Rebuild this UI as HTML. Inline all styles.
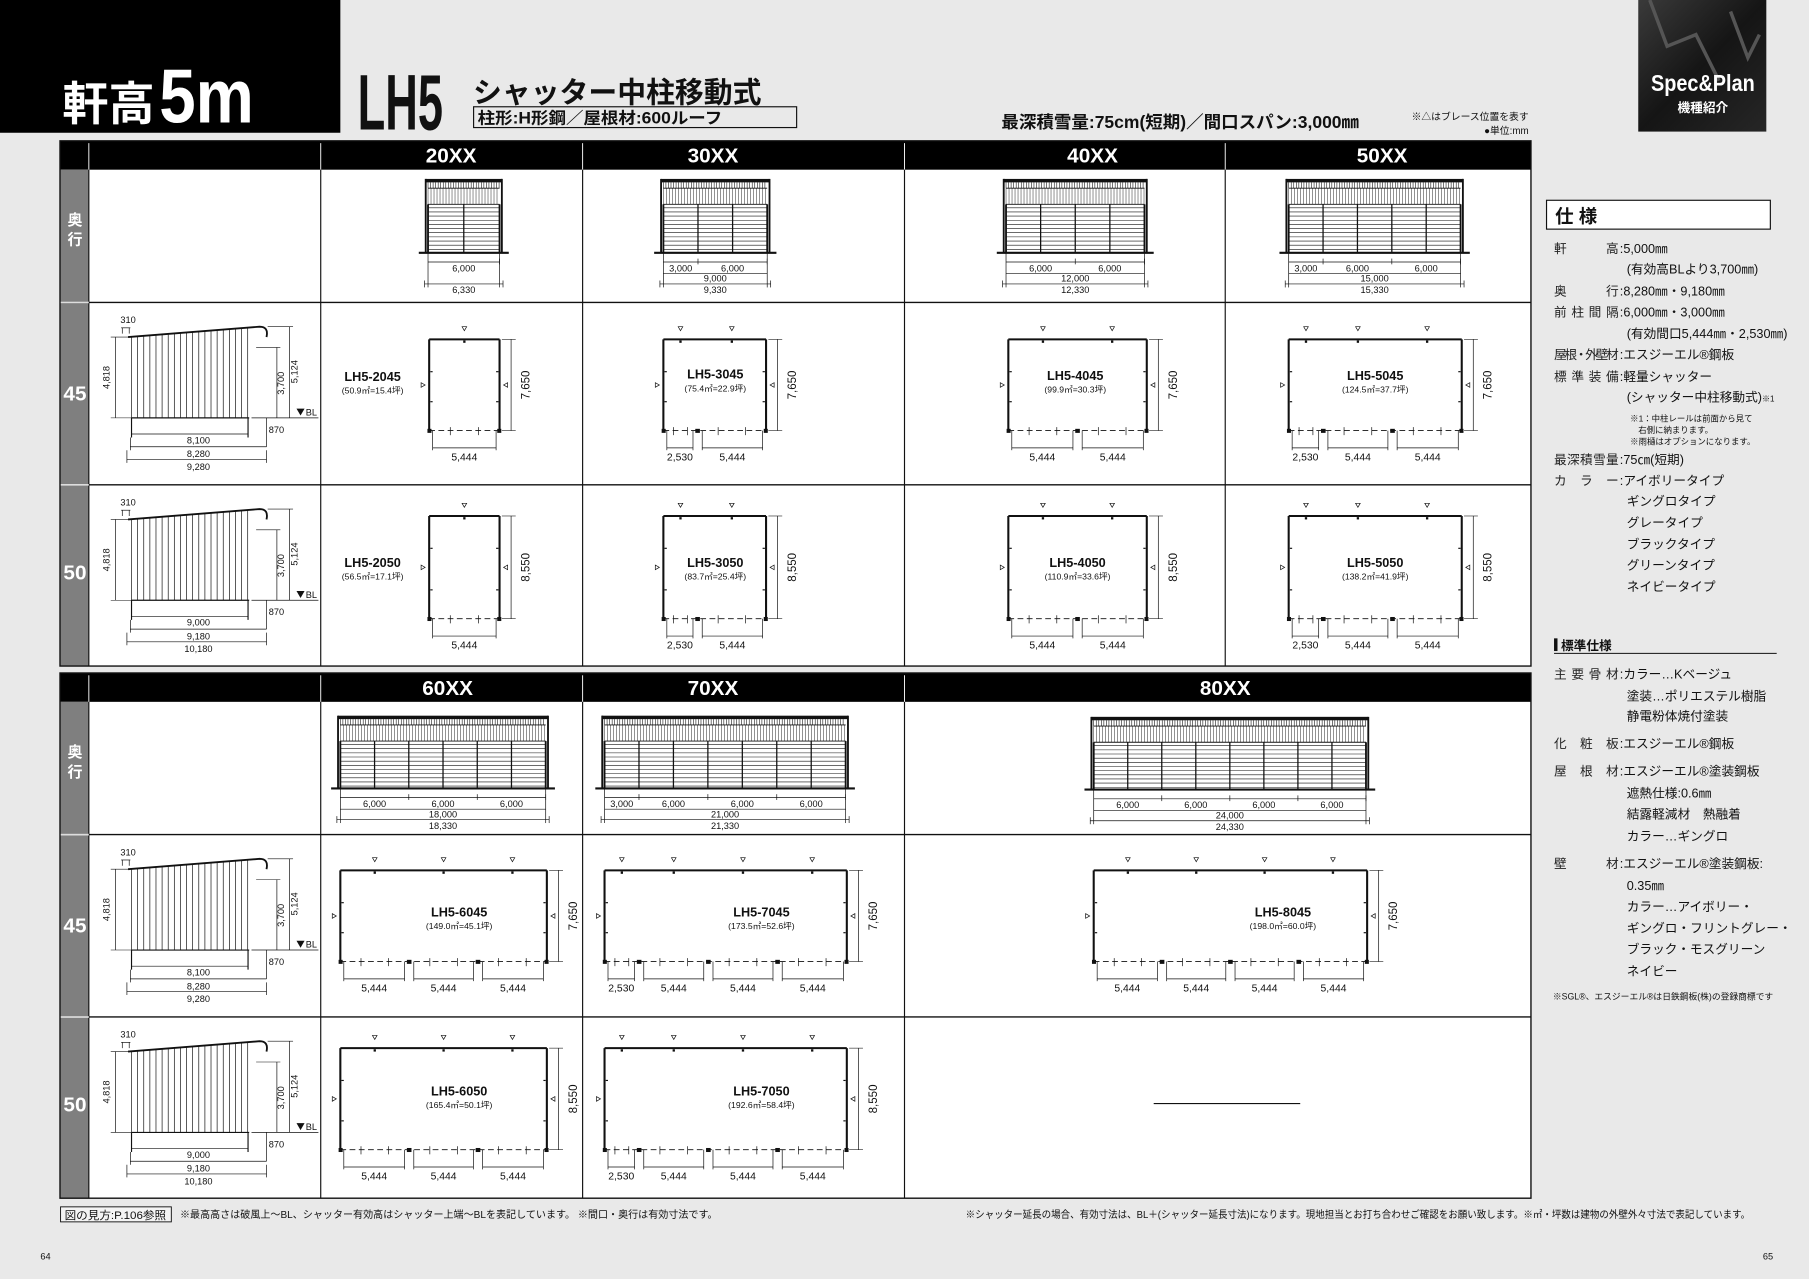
<!DOCTYPE html>
<html><head><meta charset="utf-8">
<style>
html,body{margin:0;padding:0;background:#e9e9e9;}
svg{display:block;}
text{font-family:"Liberation Sans","Noto Sans CJK JP",sans-serif;}
.n{font-family:"Liberation Sans Narrow","Liberation Sans","Noto Sans CJK JP",sans-serif;}
</style></head>
<body>
<svg id="s" width="1809" height="1279" viewBox="0 0 1568 1108" preserveAspectRatio="none" xmlns="http://www.w3.org/2000/svg">
<rect x="0" y="0" width="1568" height="1108" fill="#e9e9e9"/>
<!-- header -->
<rect x="0" y="0" width="295" height="115" fill="#000"/>
<text x="54" y="104" font-size="40" font-weight="bold" fill="#fff">軒高</text>
<text x="138" y="106" class="n" font-size="66" font-weight="bold" fill="#fff" textLength="82" lengthAdjust="spacingAndGlyphs">5m</text>
<text x="310" y="112" class="n" font-size="68" font-weight="bold" fill="#111" textLength="74" lengthAdjust="spacingAndGlyphs">LH5</text>
<text x="410" y="89" font-size="25" font-weight="bold" fill="#111" textLength="250" lengthAdjust="spacingAndGlyphs">シャッター中柱移動式</text>
<rect x="410.5" y="92.5" width="280" height="18" fill="none" stroke="#111" stroke-width="1"/>
<text x="414" y="107" font-size="14" font-weight="bold" fill="#111" textLength="212" lengthAdjust="spacingAndGlyphs">柱形:H形鋼／屋根材:600ルーフ</text>
<text x="868" y="111" font-size="15" font-weight="bold" fill="#111" textLength="310" lengthAdjust="spacingAndGlyphs">最深積雪量:75cm(短期)／間口スパン:3,000㎜</text>
<text x="1325" y="104" font-size="8.5" fill="#111" text-anchor="end">※△はブレース位置を表す</text>
<text x="1325" y="116" font-size="8.5" fill="#111" text-anchor="end">●単位:mm</text>
<defs><linearGradient id="gp" x1="0" y1="0" x2="1" y2="1"><stop offset="0" stop-color="#3a3a3a"/><stop offset="0.5" stop-color="#151515"/><stop offset="1" stop-color="#262626"/></linearGradient></defs>
<rect x="1420" y="0" width="111" height="114" fill="url(#gp)"/>
<path d="M1430 0 L1445 40 L1470 30 L1490 70 M1500 10 L1515 50 L1525 30" stroke="#555" stroke-width="3" fill="none"/>
<text x="1476" y="79" class="n" font-size="20" font-weight="bold" fill="#fff" text-anchor="middle" textLength="90" lengthAdjust="spacingAndGlyphs">Spec&amp;Plan</text>
<text x="1476" y="97" font-size="11" font-weight="bold" fill="#fff" text-anchor="middle">機種紹介</text>
<g id="g"></g>
</svg>
<script>
var o=[];
function L(x1,y1,x2,y2,w,c,d){o.push('<line x1="'+x1+'" y1="'+y1+'" x2="'+x2+'" y2="'+y2+'" stroke="'+(c||'#111')+'" stroke-width="'+(w||0.6)+'"'+(d?' stroke-dasharray="'+d+'"':'')+'/>');}
function R(x,y,w,h,f,s,sw){o.push('<rect x="'+x+'" y="'+y+'" width="'+w+'" height="'+h+'" fill="'+(f||'none')+'"'+(s?' stroke="'+s+'" stroke-width="'+(sw||1)+'"':'')+'/>');}
function T(x,y,t,sz,a,extra,cls){o.push('<text x="'+x+'" y="'+y+'" font-size="'+sz+'"'+(a?' text-anchor="'+a+'"':'')+(cls?' class="'+cls+'"':'')+' fill="#111" '+(extra||'')+'>'+t+'</text>');}
function TV(x,y,t,sz){o.push('<text x="'+x+'" y="'+y+'" font-size="'+sz+'" class="n" fill="#111" text-anchor="middle" transform="rotate(-90 '+x+' '+y+')">'+t+'</text>');}
function fmt(n){return n.toLocaleString('en-US');}

// tables
function table(y0,yh,rows,cols,heads){
  var x0=52,x1=1327;
  R(x0,y0,x1-x0,rows[rows.length-1]-y0,'#fff');
  R(x0,y0,x1-x0,yh-y0,'#000');
  R(x0,yh,25,rows[rows.length-1]-yh,'#7f7f7f');
  for(var i=0;i<cols.length;i++){L(cols[i],y0+2,cols[i],yh,0.8,'#fff');L(cols[i],yh,cols[i],rows[rows.length-1],1,'#111');}
  for(var j=1;j<rows.length-1;j++){L(x0,rows[j],x1,rows[j],1.2,'#111');L(x0,rows[j],77,rows[j],1.5,'#ddd');}
  R(x0,y0,x1-x0,rows[rows.length-1]-y0,'none','#111',1.2);
  heads.forEach(function(h){o.push('<text x="'+h[0]+'" y="'+(y0+19)+'" class="n" font-size="18" font-weight="bold" fill="#fff" text-anchor="middle">'+h[1]+'</text>');});
}
table(122,147,[122,262,420,577],[77,278,505,784,1062],[[391,'20XX'],[618,'30XX'],[947,'40XX'],[1198,'50XX']]);
table(583,608,[583,723,881,1038],[77,278,505,784],[[388,'60XX'],[618,'70XX'],[1062,'80XX']]);
function side(t,sz){o.push('<text x="65" y="'+t+'" font-size="'+sz+'" font-weight="bold" fill="#fff" text-anchor="middle" class="n">'+arguments[2]+'</text>');}
[[195,212],[656,673]].forEach(function(p){o.push('<text x="65" y="'+p[0]+'" font-size="13" font-weight="bold" fill="#fff" text-anchor="middle">奥</text><text x="65" y="'+p[1]+'" font-size="13" font-weight="bold" fill="#fff" text-anchor="middle">行</text>');});
[[347,'45'],[502,'50'],[808,'45'],[963,'50']].forEach(function(p){o.push('<text x="65" y="'+p[0]+'" font-size="18" font-weight="bold" fill="#fff" text-anchor="middle" class="n">'+p[1]+'</text>');});

// front elevations
function fe(x1,x2,top,base,segs){
  var n=Math.round((x2-x1)/((x2-x1)/ (segs.reduce(function(a,b){return a+b},0)/3000)));
  var bays=segs.reduce(function(a,b){return a+b},0)/3000;
  R(x1-2,top,x2-x1+4,3,'#111');
  for(var x=x1;x<=x2;x+=2.2)L(x,top+3,x,top+8,0.5);
  L(x1,top+8,x2,top+8,0.8);
  for(x=x1;x<=x2;x+=2.6)L(x,top+8,x,top+22,0.4);
  L(x1,top+22,x2,top+22,0.8);
  for(var y=top+25;y<base;y+=3.6)L(x1,y,x2,y,0.5);
  var bw=(x2-x1)/bays;
  for(var i=0;i<=bays;i++)L(x1+i*bw,top+22,x1+i*bw,base,i==0||i==bays?1.6:1.1);
  L(x1-2,top,x1-2,base,1.6);L(x2+2,top,x2+2,base,1.6);
  L(x1-8,base,x2+8,base,1.8);
  // dims
  var tot=segs.reduce(function(a,b){return a+b},0),sc=(x2-x1)/tot;
  var yl=base+8;L(x1,yl,x2,yl,0.6);
  var cx=x1;L(cx,base,cx,base+30,0.6);
  segs.forEach(function(s){var nx=cx+s*sc;L(nx,yl-3,nx,yl+2,0.6);T((cx+nx)/2,base+16,fmt(s),8,'middle','','n');cx=nx;});
  L(x2,base,x2,base+30,0.6);
  if(segs.length>1){L(x1,base+18,x2,base+18,0.6);T((x1+x2)/2,base+25,fmt(tot),8,'middle','','n');}
  L(x1-3,base+27,x2+3,base+27,0.6);L(x1-3,base+24,x1-3,base+30,0.6);L(x2+3,base+24,x2+3,base+30,0.6);
  T((x1+x2)/2,base+35,fmt(tot+330),8,'middle','','n');
}
fe(371,433,155,219,[6000]);
fe(575,665,155,219,[3000,6000]);
fe(872,992,155,219,[6000,6000]);
fe(1117,1266,155,219,[3000,6000,6000]);
fe(295,473,620,683,[6000,6000,6000]);
fe(524,733,620,683,[3000,6000,6000,6000]);
fe(948,1184,621,684,[6000,6000,6000,6000]);

// side elevations
function sideEl(t,d){
  T(111,t+18,'310',8,'middle','','n');
  L(106,t+22,106,t+27,0.6);L(112,t+22,112,t+27,0.6);L(105,t+22,113,t+22,0.6);
  o.push('<path d="M111 '+(t+30)+' L225 '+(t+21)+' Q233 '+(t+21)+' 231 '+(t+30)+'" stroke="#111" stroke-width="1.6" fill="none"/>');
  for(var x=114;x<=215;x+=5.3){var yy=t+30-(x-111)*9/114;L(x,yy,x,t+100,0.6);}
  L(114,t+100,216,t+100,1);
  // 4818
  L(96,t+30,114,t+30,0.5);L(96,t+100,114,t+100,0.5);L(100,t+30,100,t+100,0.6);TV(95,t+65,'4,818',8);
  L(222,t+39,243,t+39,0.5);L(240,t+39,240,t+100,0.6);TV(246,t+70,'3,700',8);
  L(232,t+21,254,t+21,0.5);L(251,t+21,251,t+100,0.6);TV(258,t+60,'5,124',8);
  L(218,t+100,276,t+100,0.6);
  o.push('<path d="M257 '+(t+92)+' L264 '+(t+92)+' L260.5 '+(t+98)+' Z" fill="#111"/>');T(265,t+98,'BL',8,'','','n');
  L(231,t+100,231,t+125,0.6);T(233,t+113,'870',8,'','','n');
  L(114,t+100,114,t+117,1);L(215,t+100,215,t+117,1);
  L(114,t+114,215,t+114,0.6);T(172,t+122,d[0],8,'middle','','n');
  L(113,t+125,231,t+125,0.6);L(113,t+117,113,t+128,0.6);T(172,t+134,d[1],8,'middle','','n');
  L(110,t+136,231,t+136,0.6);L(110,t+128,110,t+139,0.6);L(231,t+128,231,t+139,0.6);T(172,t+145,d[2],8,'middle','','n');
}
sideEl(262,['8,100','8,280','9,280']);
sideEl(420,['9,000','9,180','10,180']);
sideEl(723,['8,100','8,280','9,280']);
sideEl(881,['9,000','9,180','10,180']);

// plans
function tri(x,y,dir){var p;if(dir=='d')p=[[x-2,y-2],[x+2,y-2],[x,y+1.5]];else if(dir=='r')p=[[x-2,y-2],[x-2,y+2],[x+1.5,y]];else p=[[x+2,y-2],[x+2,y+2],[x-1.5,y]];
 o.push('<polygon points="'+p.map(function(a){return a.join(',')}).join(' ')+'" fill="none" stroke="#111" stroke-width="0.6"/>');}
function plan(x1,x2,y1,y2,segs,h,name,area,lx,ly){
  L(x1,y1,x2,y1,1.8);L(x1,y1,x1,y2,1.8);L(x2,y1,x2,y2,1.8);
  L(x1,y2,x2,y2,0.8,'#111','5 3');
  var tot=segs.reduce(function(a,b){return a+b},0),sc=(x2-x1)/tot,cx=x1;
  R(x1-1.5,y2-1.5,3.5,3.5,'#111');R(x2-2,y2-1.5,3.5,3.5,'#111');
  segs.forEach(function(s,i){var nx=cx+s*sc;
    tri((cx+nx)/2,y1-9,'d');
    R((cx+nx)/2-1,y1+1,2,2,'#111');
    if(i<segs.length-1)R(nx-2,y2-1.5,4,3.5,'#111');
    var a=cx+(i==0?3:4),b=nx-(i==segs.length-1?3:4);
    L(a,y2,a,y2+17,0.6);L(b,y2,b,y2+17,0.6);L(a,y2+15,b,y2+15,0.6);
    L(cx+(nx-cx)*0.3,y2-3,cx+(nx-cx)*0.3,y2+4,0.6);L(cx+(nx-cx)*0.7,y2-3,cx+(nx-cx)*0.7,y2+4,0.6);
    T((a+b)/2,y2+26,s==3000?'2,530':'5,444',9,'middle','','n');
    cx=nx;});
  var ym=(y1+y2)/2;tri(x1-5,ym,'r');tri(x2+5,ym,'l');
  L(x1+1,y1+28,x1+3,y1+28,1);L(x1+1,y2-25,x1+3,y2-25,1);L(x2-3,y1+28,x2-1,y1+28,1);L(x2-3,y2-25,x2-1,y2-25,1);
  L(x2+2,y1,x2+14,y1,0.5);L(x2+2,y2,x2+14,y2,0.5);L(x2+10,y1,x2+10,y2,0.6);
  TV(x2+26,ym,h,10);
  o.push('<text x="'+lx+'" y="'+ly+'" font-size="11" font-weight="bold" fill="#111" text-anchor="middle">'+name+'</text>');
  T(lx,ly+11,area,7.5,'middle');
}
plan(372,433,294,373,[6000],'7,650','LH5-2045','(50.9㎡=15.4坪)',323,330);
plan(575,664,294,373,[3000,6000],'7,650','LH5-3045','(75.4㎡=22.9坪)',620,328);
plan(874,994,294,373,[6000,6000],'7,650','LH5-4045','(99.9㎡=30.3坪)',932,329);
plan(1117,1267,294,373,[3000,6000,6000],'7,650','LH5-5045','(124.5㎡=37.7坪)',1192,329);
plan(372,433,447,536,[6000],'8,550','LH5-2050','(56.5㎡=17.1坪)',323,491);
plan(575,664,447,536,[3000,6000],'8,550','LH5-3050','(83.7㎡=25.4坪)',620,491);
plan(874,994,447,536,[6000,6000],'8,550','LH5-4050','(110.9㎡=33.6坪)',934,491);
plan(1117,1267,447,536,[3000,6000,6000],'8,550','LH5-5050','(138.2㎡=41.9坪)',1192,491);
plan(295,474,754,833,[6000,6000,6000],'7,650','LH5-6045','(149.0㎡=45.1坪)',398,794);
plan(524,734,754,833,[3000,6000,6000,6000],'7,650','LH5-7045','(173.5㎡=52.6坪)',660,794);
plan(948,1185,754,833,[6000,6000,6000,6000],'7,650','LH5-8045','(198.0㎡=60.0坪)',1112,794);
plan(295,474,908,996,[6000,6000,6000],'8,550','LH5-6050','(165.4㎡=50.1坪)',398,949);
plan(524,734,908,996,[3000,6000,6000,6000],'8,550','LH5-7050','(192.6㎡=58.4坪)',660,949);
L(1000,956,1127,956,1);

// spec column
R(1340.5,173.5,194,25,'#fff','#111',1);
o.push('<text x="1348" y="193" font-size="16" font-weight="bold" fill="#111">仕 様</text>');
function sp(y,lab,val){o.push('<text x="1347" y="'+y+'" font-size="11" fill="#222"'+(lab.length>1?' textLength="56" lengthAdjust="spacing"':'')+'>'+lab+'</text>');T(1404,y,':'+val,11,'','fill="#222"');}
function sv(y,val,x){T(x||1410,y,val,11,'','fill="#222"');}
sp(219,'軒高','5,000㎜');sv(237,'(有効高BLより3,700㎜)');
sp(256,'奥行','8,280㎜・9,180㎜');sp(274,'前柱間隔','6,000㎜・3,000㎜');sv(293,'(有効間口5,444㎜・2,530㎜)');
sp(311,'屋根・外壁材','エスジーエル®鋼板');sp(330,'標準装備','軽量シャッター');sv(348,'(シャッター中柱移動式)<tspan font-size="7">※1</tspan>');
T(1413,365,'※1：中柱レールは前面から見て',7.3);T(1420,375,'右側に納まります。',7.3);T(1413,385,'※雨樋はオプションになります。',7.3);
sp(402,'最深積雪量','75㎝(短期)');sp(420,'カラー','アイボリータイプ');
['ギングロタイプ','グレータイプ','ブラックタイプ','グリーンタイプ','ネイビータイプ'].forEach(function(v,i){sv(438+i*18.5,v);});
R(1347,553,3,11,'#111');o.push('<text x="1353" y="563" font-size="11" font-weight="bold" fill="#111">標準仕様</text>');L(1347,566,1540,566,0.8);
sp(588,'主要骨材','カラー…Kベージュ');sv(607,'塗装…ポリエステル樹脂');sv(624,'静電粉体焼付塗装');
sp(648,'化粧板','エスジーエル®鋼板');sp(672,'屋根材','エスジーエル®塗装鋼板');sv(691,'遮熱仕様:0.6㎜');sv(709,'結露軽減材　熱融着');sv(728,'カラー…ギングロ');
sp(752,'壁材','エスジーエル®塗装鋼板:');sv(771,'0.35㎜');sv(789,'カラー…アイボリー・');sv(808,'ギングロ・フリントグレー・');sv(826,'ブラック・モスグリーン');sv(845,'ネイビー');
T(1346,866,'※SGL®、エスジーエル®は日鉄鋼板(株)の登録商標です',7.6,'','fill="#222"');

// footer
R(52.5,1045.5,96,13,'#f4f4f4','#111',0.8);
T(56,1056,'図の見方:P.106参照',9.5,'','textLength="88" lengthAdjust="spacingAndGlyphs"');
T(156,1055,'※最高高さは破風上〜BL、シャッター有効高はシャッター上端〜BLを表記しています。 ※間口・奥行は有効寸法です。',9,'','textLength="466" lengthAdjust="spacingAndGlyphs"');
T(837,1055,'※シャッター延長の場合、有効寸法は、BL＋(シャッター延長寸法)になります。現地担当とお打ち合わせご確認をお願い致します。※㎡・坪数は建物の外壁外々寸法で表記しています。',9,'','textLength="680" lengthAdjust="spacingAndGlyphs"');
T(35,1091,'64',8,'','','n');T(1528,1091,'65',8,'','','n');
document.getElementById('g').innerHTML=o.join('');
</script>
</body></html>
